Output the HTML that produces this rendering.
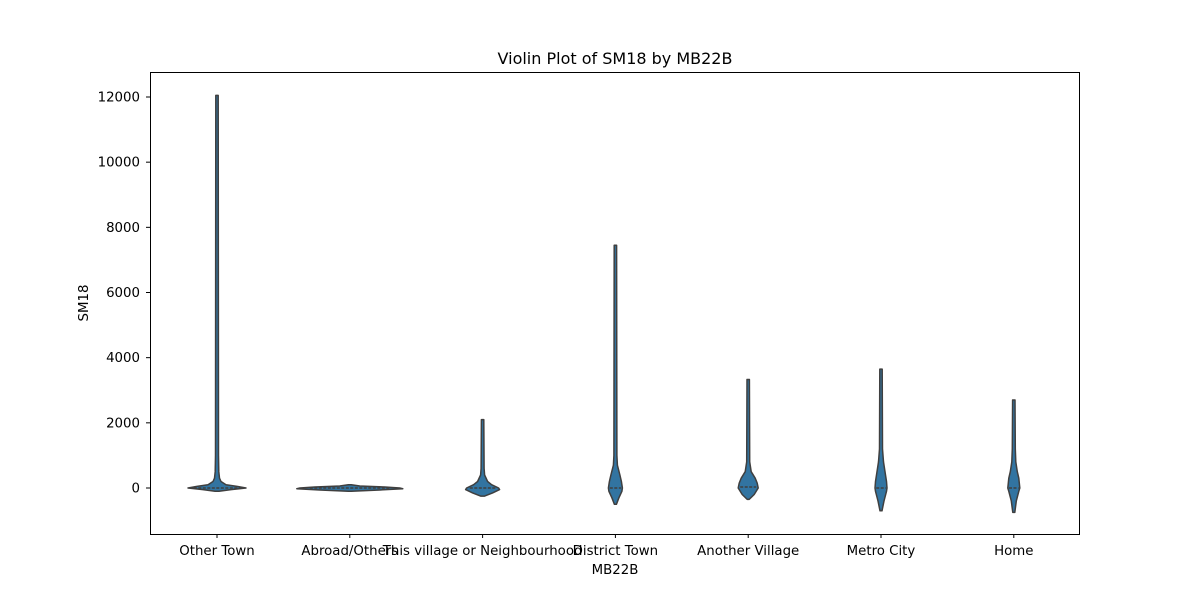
<!DOCTYPE html>
<html><head><meta charset="utf-8"><style>
body{margin:0;background:#fff;}
svg text{font-family:"DejaVu Sans","Liberation Sans",sans-serif;fill:#000;}
</style></head><body>
<svg id="chart" width="1200" height="600">
<rect width="1200" height="600" fill="#fff"/>
<text x="615" y="64" font-size="16" text-anchor="middle">Violin Plot of SM18 by MB22B</text>
<g id="violins"></g>
<g id="axes"></g>
<rect x="150.5" y="72.5" width="929" height="462" fill="none" stroke="#000" stroke-width="1"/>
<text x="615" y="574" font-size="13.33" text-anchor="middle">MB22B</text>
<text transform="translate(88,303) rotate(-90)" font-size="13.33" text-anchor="middle">SM18</text>
</svg>
<script>
const categories=["Other Town","Abroad/Others","This village or Neighbourhood","District Town","Another Village","Metro City","Home"];
const yTicks=[0,2000,4000,6000,8000,10000,12000];
// density profile stations (SM18 values) and relative half-widths per category
const profVals=[
 [-100,-50,0,50,100,200,300,500,1000,12050],
 [-100,-60,-20,0,30,60,100],
 [-250,-150,-50,0,100,200,400,600,2100],
 [-500,-300,-100,0,200,400,700,1000,7450],
 [-350,-200,0,150,300,500,800,3330],
 [-700,-400,-100,0,200,400,800,1200,3650],
 [-750,-400,-100,0,300,500,800,1200,2700]
];
const profWidths=[
 [2,14,29,20,9,4,2.5,1.8,1.5,1.2],
 [1.5,30,53,50,35,10,1.5],
 [2,10,17,16,9,5,2,1.5,1.2],
 [1,3.5,6.5,7,6,4.5,2,1.5,1.2],
 [1,6,10,9,7,3,1.5,1.2],
 [1,3,5.5,6,5.5,4.5,2.5,1.5,1.2],
 [1,2.5,5,6,5,3.5,2,1.5,1.2]
];
const medians=[0,0,0,0,30,0,0];
const ns="http://www.w3.org/2000/svg";
const X0=217,DX=132.8;
function xs(i){return X0+i*DX;}
function ys(v){return 488-v*(391/12000);}
const vg=document.getElementById('violins');
const ag=document.getElementById('axes');
categories.forEach((c,i)=>{
  const cx=xs(i),vals=profVals[i],w=profWidths[i];
  let right=[],left=[];
  vals.forEach((v,k)=>{right.push([cx+w[k],ys(v)]);left.push([cx-w[k],ys(v)]);});
  let d="M"+cx+","+ys(vals[0]);
  right.forEach(p=>d+=" L"+p[0].toFixed(1)+","+p[1].toFixed(1));
  d+=" L"+cx+","+ys(vals[vals.length-1]);
  left.slice().reverse().forEach(p=>d+=" L"+p[0].toFixed(1)+","+p[1].toFixed(1));
  d+="Z";
  const p=document.createElementNS(ns,'path');
  p.setAttribute('d',d);p.setAttribute('fill','#3274a1');p.setAttribute('stroke','#3f3f3f');
  p.setAttribute('stroke-width','1.5');p.setAttribute('stroke-linejoin','round');
  
  
  vg.appendChild(p);
  const mw=Math.max(w[vals.indexOf(0)]||w[2],3)*0.8;
  const l=document.createElementNS(ns,'line');
  l.setAttribute('x1',cx-mw);l.setAttribute('x2',cx+mw);
  l.setAttribute('y1',ys(medians[i]));l.setAttribute('y2',ys(medians[i]));
  l.setAttribute('stroke','#3f3f3f');l.setAttribute('stroke-width','1.5');l.setAttribute('stroke-dasharray','3,1.5');
  
  
  vg.appendChild(l);
  const t=document.createElementNS(ns,'line');
  t.setAttribute('x1',cx);t.setAttribute('x2',cx);t.setAttribute('y1',534);t.setAttribute('y2',538);
  t.setAttribute('stroke','#000');
  
  
  ag.appendChild(t);
  const tx=document.createElementNS(ns,'text');
  tx.setAttribute('x',cx);tx.setAttribute('y',555);tx.setAttribute('font-size','13.33');tx.setAttribute('text-anchor','middle');
  tx.textContent=c;
  
  
  ag.appendChild(tx);
});
yTicks.forEach(v=>{
  const y=ys(v);
  const t=document.createElementNS(ns,'line');
  t.setAttribute('x1',146);t.setAttribute('x2',150);t.setAttribute('y1',y);t.setAttribute('y2',y);t.setAttribute('stroke','#000');
  
  
  ag.appendChild(t);
  const tx=document.createElementNS(ns,'text');
  tx.setAttribute('x',140);tx.setAttribute('y',y+4.5);tx.setAttribute('font-size','13.33');tx.setAttribute('text-anchor','end');
  tx.textContent=v;
  
  
  ag.appendChild(tx);
});
</script>
</body></html>
